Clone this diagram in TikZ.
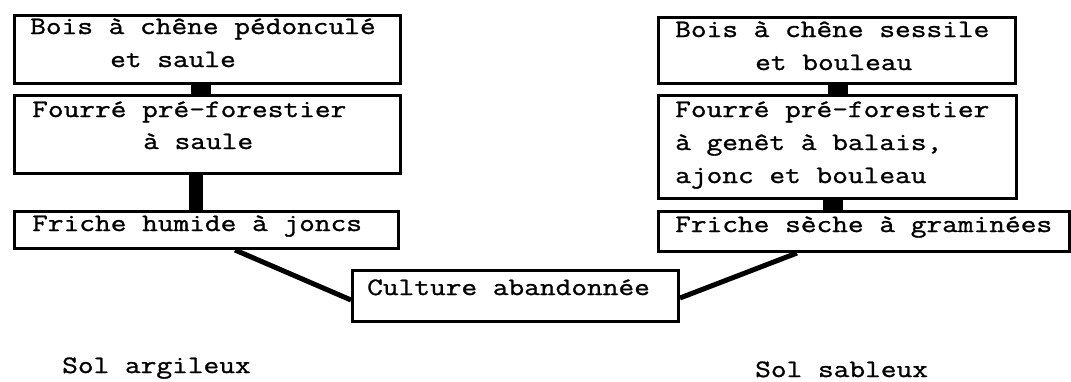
\documentclass[tikz,border=0pt]{standalone}
\usepackage{fontspec}
\setmonofont{Latin Modern Mono}[FakeStretch=1.22,FakeBold=1.2]
\begin{document}
\begin{tikzpicture}[x=1pt,y=-1pt,
  box/.style={draw=black,line width=3pt,rectangle,inner sep=0pt,anchor=north west},
  txt/.style={anchor=base west,inner sep=0pt,font=\ttfamily\fontsize{25}{30}\selectfont},
  stem/.style={draw=black,line width=#1},
  diag/.style={draw=black,line width=5pt}]
\useasboundingbox (0,0) rectangle (1071,381);
% boxes
\node[box,minimum width=386pt,minimum height=68pt] (L1) at (13,14) {};
\node[box,minimum width=386pt,minimum height=78pt] (L2) at (13,94) {};
\node[box,minimum width=384pt,minimum height=37pt] (L3) at (13,210) {};
\node[box,minimum width=326pt,minimum height=51pt] (C) at (351,269) {};
\node[box,minimum width=357pt,minimum height=66pt] (R1) at (657,16) {};
\node[box,minimum width=358pt,minimum height=103pt] (R2) at (657,94) {};
\node[box,minimum width=411pt,minimum height=40pt] (R3) at (657,210) {};
% texts
\node[txt] (t1) at (30,34) {Bois à chêne pédonculé};
\node[txt] (t2) at (110,67) {et saule};
\node[txt] (t3) at (32,117) {Fourré pré-forestier};
\node[txt] (t4) at (143,149) {à saule};
\node[txt] (t5) at (32,231) {Friche humide à joncs};
\node[txt] (t6) at (367,295) {Culture abandonnée};
\node[txt] (t7) at (675,37) {Bois à chêne sessile};
\node[txt] (t8) at (755,70) {et bouleau};
\node[txt] (t9) at (675,117) {Fourré pré-forestier};
\node[txt] (t10) at (675,150) {à genêt à balais,};
\node[txt] (t11) at (675,183) {ajonc et bouleau};
\node[txt] (t12) at (675,232) {Friche sèche à graminées};
\node[txt] (s1) at (62,373) {Sol argileux};
\node[txt] (s2) at (755,377) {Sol sableux};
% connectors
\draw[stem=20pt] (201,0 |- L1.south) -- (201,0 |- L2.north);
\draw[stem=14pt] (196,0 |- L2.south) -- (196,0 |- L3.north);
\draw[stem=20pt] (838,0 |- R1.south) -- (838,0 |- R2.north);
\draw[stem=20pt] (833,0 |- R2.south) -- (833,0 |- R3.north);
\draw[diag] (235,0 |- L3.south) -- (C.west |- 0,300);
\draw[diag] (C.east |- 0,298) -- (797,0 |- R3.south);
\end{tikzpicture}
\end{document}
